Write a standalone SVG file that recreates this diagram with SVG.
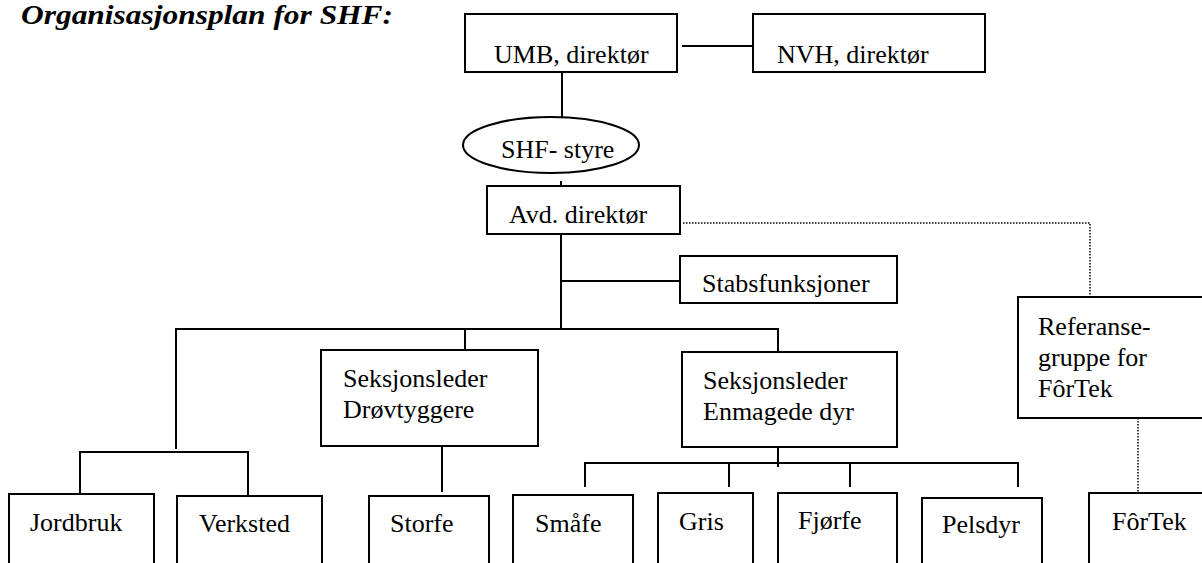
<svg xmlns="http://www.w3.org/2000/svg" width="1202" height="563" viewBox="0 0 1202 563">
<style>
.box{fill:#fff;stroke:#000;stroke-width:2}
.t{font-family:'Liberation Serif','DejaVu Serif',serif;font-size:26px;fill:#000}
.title{font-family:'Liberation Serif','DejaVu Serif',serif;font-size:28px;font-weight:bold;font-style:italic;fill:#000}
.c{fill:none;stroke:#000;stroke-width:2}
.d{fill:none;stroke:#000;stroke-width:1.5;stroke-dasharray:1.5 1.5}
</style>
<rect width="1202" height="563" fill="#fff"/>
<text class="title" x="21" y="23.5" textLength="372" lengthAdjust="spacingAndGlyphs">Organisasjonsplan for SHF:</text>
<g id="connectors">
<path class="c" d="M682 46H753"/>
<path class="c" d="M562 72V117"/>
<path class="c" d="M561 181V186"/>
<path class="c" d="M561 234V329"/>
<path class="c" d="M561 281H680"/>
<path class="c" d="M176 449V329H778V352"/>
<path class="c" d="M465 329V350"/>
<path class="c" d="M80 493V452H248V495"/>
<path class="c" d="M442 446V492"/>
<path class="c" d="M778 447V467"/>
<path class="c" d="M585 487V463H1018V487"/>
<path class="c" d="M729 463V487"/>
<path class="c" d="M850 463V487"/>
<path class="d" d="M683 223H1090V297"/>
<path class="d" d="M1138 418V493"/>
</g>
<g id="umb"><rect class="box" x="465" y="14" width="212" height="58"/><text class="t" x="494" y="63">UMB, direktør</text></g>
<g id="nvh"><rect class="box" x="753" y="14" width="232" height="58"/><text class="t" x="777" y="63">NVH, direktør</text></g>
<g id="styre"><ellipse class="box" cx="551" cy="145" rx="88" ry="28"/><text class="t" x="501" y="158">SHF- styre</text></g>
<g id="avd"><rect class="box" x="487" y="186" width="193" height="48"/><text class="t" x="509" y="223">Avd. direktør</text></g>
<g id="stabs"><rect class="box" x="680" y="256" width="217" height="47"/><text class="t" x="702" y="292">Stabsfunksjoner</text></g>
<g id="drov"><rect class="box" x="321" y="350" width="217" height="96"/><text class="t" x="343" y="387">Seksjonsleder</text><text class="t" x="343" y="418">Drøvtyggere</text></g>
<g id="enmag"><rect class="box" x="682" y="352" width="215" height="95"/><text class="t" x="703" y="389">Seksjonsleder</text><text class="t" x="703" y="420">Enmagede dyr</text></g>
<g id="ref"><rect class="box" x="1018" y="297" width="200" height="121"/><text class="t" x="1038" y="335">Referanse-</text><text class="t" x="1038" y="366">gruppe for</text><text class="t" x="1038" y="397">FôrTek</text></g>
<g id="jordbruk"><rect class="box" x="9" y="494" width="145" height="90"/><text class="t" x="30" y="531">Jordbruk</text></g>
<g id="verksted"><rect class="box" x="177" y="496" width="145" height="90"/><text class="t" x="199" y="532">Verksted</text></g>
<g id="storfe"><rect class="box" x="369" y="496" width="120" height="90"/><text class="t" x="390" y="532">Storfe</text></g>
<g id="smafe"><rect class="box" x="513" y="495" width="120" height="90"/><text class="t" x="535" y="532">Småfe</text></g>
<g id="gris"><rect class="box" x="658" y="493" width="95" height="90"/><text class="t" x="679" y="530">Gris</text></g>
<g id="fjorfe"><rect class="box" x="778" y="493" width="119" height="90"/><text class="t" x="798" y="529">Fjørfe</text></g>
<g id="pelsdyr"><rect class="box" x="922" y="498" width="120" height="90"/><text class="t" x="942" y="533">Pelsdyr</text></g>
<g id="fortek"><rect class="box" x="1089" y="493" width="130" height="90"/><text class="t" x="1112" y="530">FôrTek</text></g>
</svg>
